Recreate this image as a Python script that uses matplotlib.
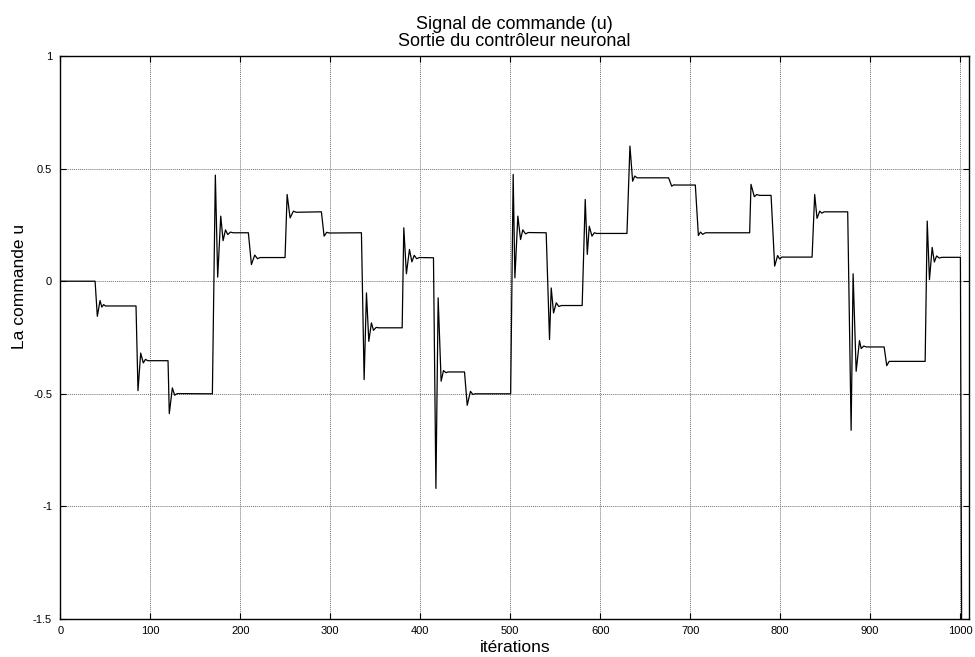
import matplotlib
matplotlib.use("Agg")
import matplotlib.pyplot as plt

plt.rcParams['font.family'] = ['Liberation Sans', 'DejaVu Sans']

# Control signal vertices (iteration, u)
iterations = [
    0, 38.5, 41, 44, 46, 48, 50, 84,
    86.2, 89.2, 92.1, 94.5, 97, 119.6,
    121, 124.4, 127, 130, 168.9,
    172.2, 174.8, 178.2, 180.8, 183.5, 186, 189, 192, 208.9,
    212.3, 216, 219, 222, 249.7,
    252, 255.3, 259, 262, 290.1,
    293.1, 296, 299, 334.6,
    337.6, 340.2, 342.8, 345.7, 348, 351, 354, 379.9,
    381.7, 384.6, 388, 390.7, 393.3, 396, 399, 414.7,
    417.4, 419.9, 423.2, 425.8, 428.5, 431, 449.2,
    452.2, 455.8, 458.5, 461, 500.5,
    503.3, 505.2, 508.5, 511.5, 514, 517, 520, 540,
    543.7, 545.6, 548.2, 551.2, 554, 557, 580,
    583.4, 585.7, 587.9, 590.9, 593.5, 596, 629.8,
    633.1, 636.1, 638.5, 641, 676.1,
    679.5, 682, 684, 705.8,
    709.2, 711.5, 714, 717, 766.2,
    767.7, 771.4, 774, 777, 790,
    794, 797.3, 799.5, 802, 835.6,
    838.5, 841.1, 844.1, 846.5, 849, 875.2,
    879, 881.2, 884.6, 888.3, 890.2, 893, 896, 915.7,
    918.6, 921.3, 961.3,
    963.6, 966.1, 969.1, 971.5, 974, 977, 980, 1000.5,
    1002,
]
commande = [
    0, 0, -0.156, -0.086, -0.115, -0.104, -0.11, -0.11,
    -0.486, -0.319, -0.363, -0.347, -0.353, -0.353,
    -0.588, -0.474, -0.506, -0.499, -0.5,
    0.471, 0.018, 0.289, 0.18, 0.228, 0.207, 0.218, 0.215, 0.215,
    0.074, 0.116, 0.100, 0.105, 0.105,
    0.385, 0.281, 0.311, 0.306, 0.308,
    0.2, 0.217, 0.214, 0.215,
    -0.437, -0.052, -0.267, -0.185, -0.218, -0.205, -0.207, -0.207,
    0.237, 0.033, 0.141, 0.086, 0.115, 0.100, 0.105, 0.104,
    -0.92, -0.074, -0.444, -0.397, -0.406, -0.403, -0.403,
    -0.551, -0.489, -0.503, -0.5, -0.5,
    0.474, 0.015, 0.289, 0.185, 0.228, 0.21, 0.216, 0.215,
    -0.259, -0.030, -0.141, -0.096, -0.112, -0.108, -0.108,
    0.363, 0.119, 0.244, 0.2, 0.215, 0.212, 0.212,
    0.6, 0.444, 0.467, 0.459, 0.459,
    0.422, 0.428, 0.427, 0.427,
    0.203, 0.218, 0.208, 0.215, 0.215,
    0.43, 0.375, 0.385, 0.381, 0.381,
    0.067, 0.114, 0.099, 0.107, 0.107,
    0.385, 0.279, 0.311, 0.302, 0.308, 0.308,
    -0.662, 0.033, -0.4, -0.264, -0.299, -0.288, -0.292, -0.292,
    -0.375, -0.356, -0.356,
    0.267, 0.007, 0.15, 0.085, 0.112, 0.103, 0.106, 0.106,
    -1.7,
]

x_ticks = [0, 100, 200, 300, 400, 500, 600, 700, 800, 900, 1000]
y_ticks = [-1.5, -1, -0.5, 0, 0.5, 1]
y_ticklabels = ['-1.5', '-1', '-0.5', '0', '0.5', '1']

fig = plt.figure(figsize=(9.75, 6.57), dpi=100)
ax = fig.add_axes([0.062, 0.0578, 0.9318, 0.857])

ax.plot(iterations, commande, color='black', linewidth=0.9)

ax.set_xlim(0, 1010)
ax.set_ylim(-1.5, 1)
ax.set_xticks(x_ticks)
ax.set_yticks(y_ticks)
ax.set_yticklabels(y_ticklabels)

ax.grid(True, color='0.45', linestyle=(0, (1, 1)), linewidth=0.7)
ax.tick_params(direction='in', length=4, width=0.8, top=True, right=True,
               labelsize=8)
ax.tick_params(axis='x', pad=5)
ax.tick_params(axis='y', pad=6)
for s in ax.spines.values():
    s.set_linewidth(1.0)
    s.set_color('black')

ax.set_title("Signal de commande (u)\nSortie du contrôleur neuronal",
             fontsize=13, linespacing=1.05, pad=7)
ax.set_xlabel("itérations", fontsize=12.5, labelpad=3)
ax.set_ylabel("La commande u", fontsize=12.5)
ax.yaxis.set_label_coords(-0.037, 0.59)

fig.savefig("out.png", dpi=100)
